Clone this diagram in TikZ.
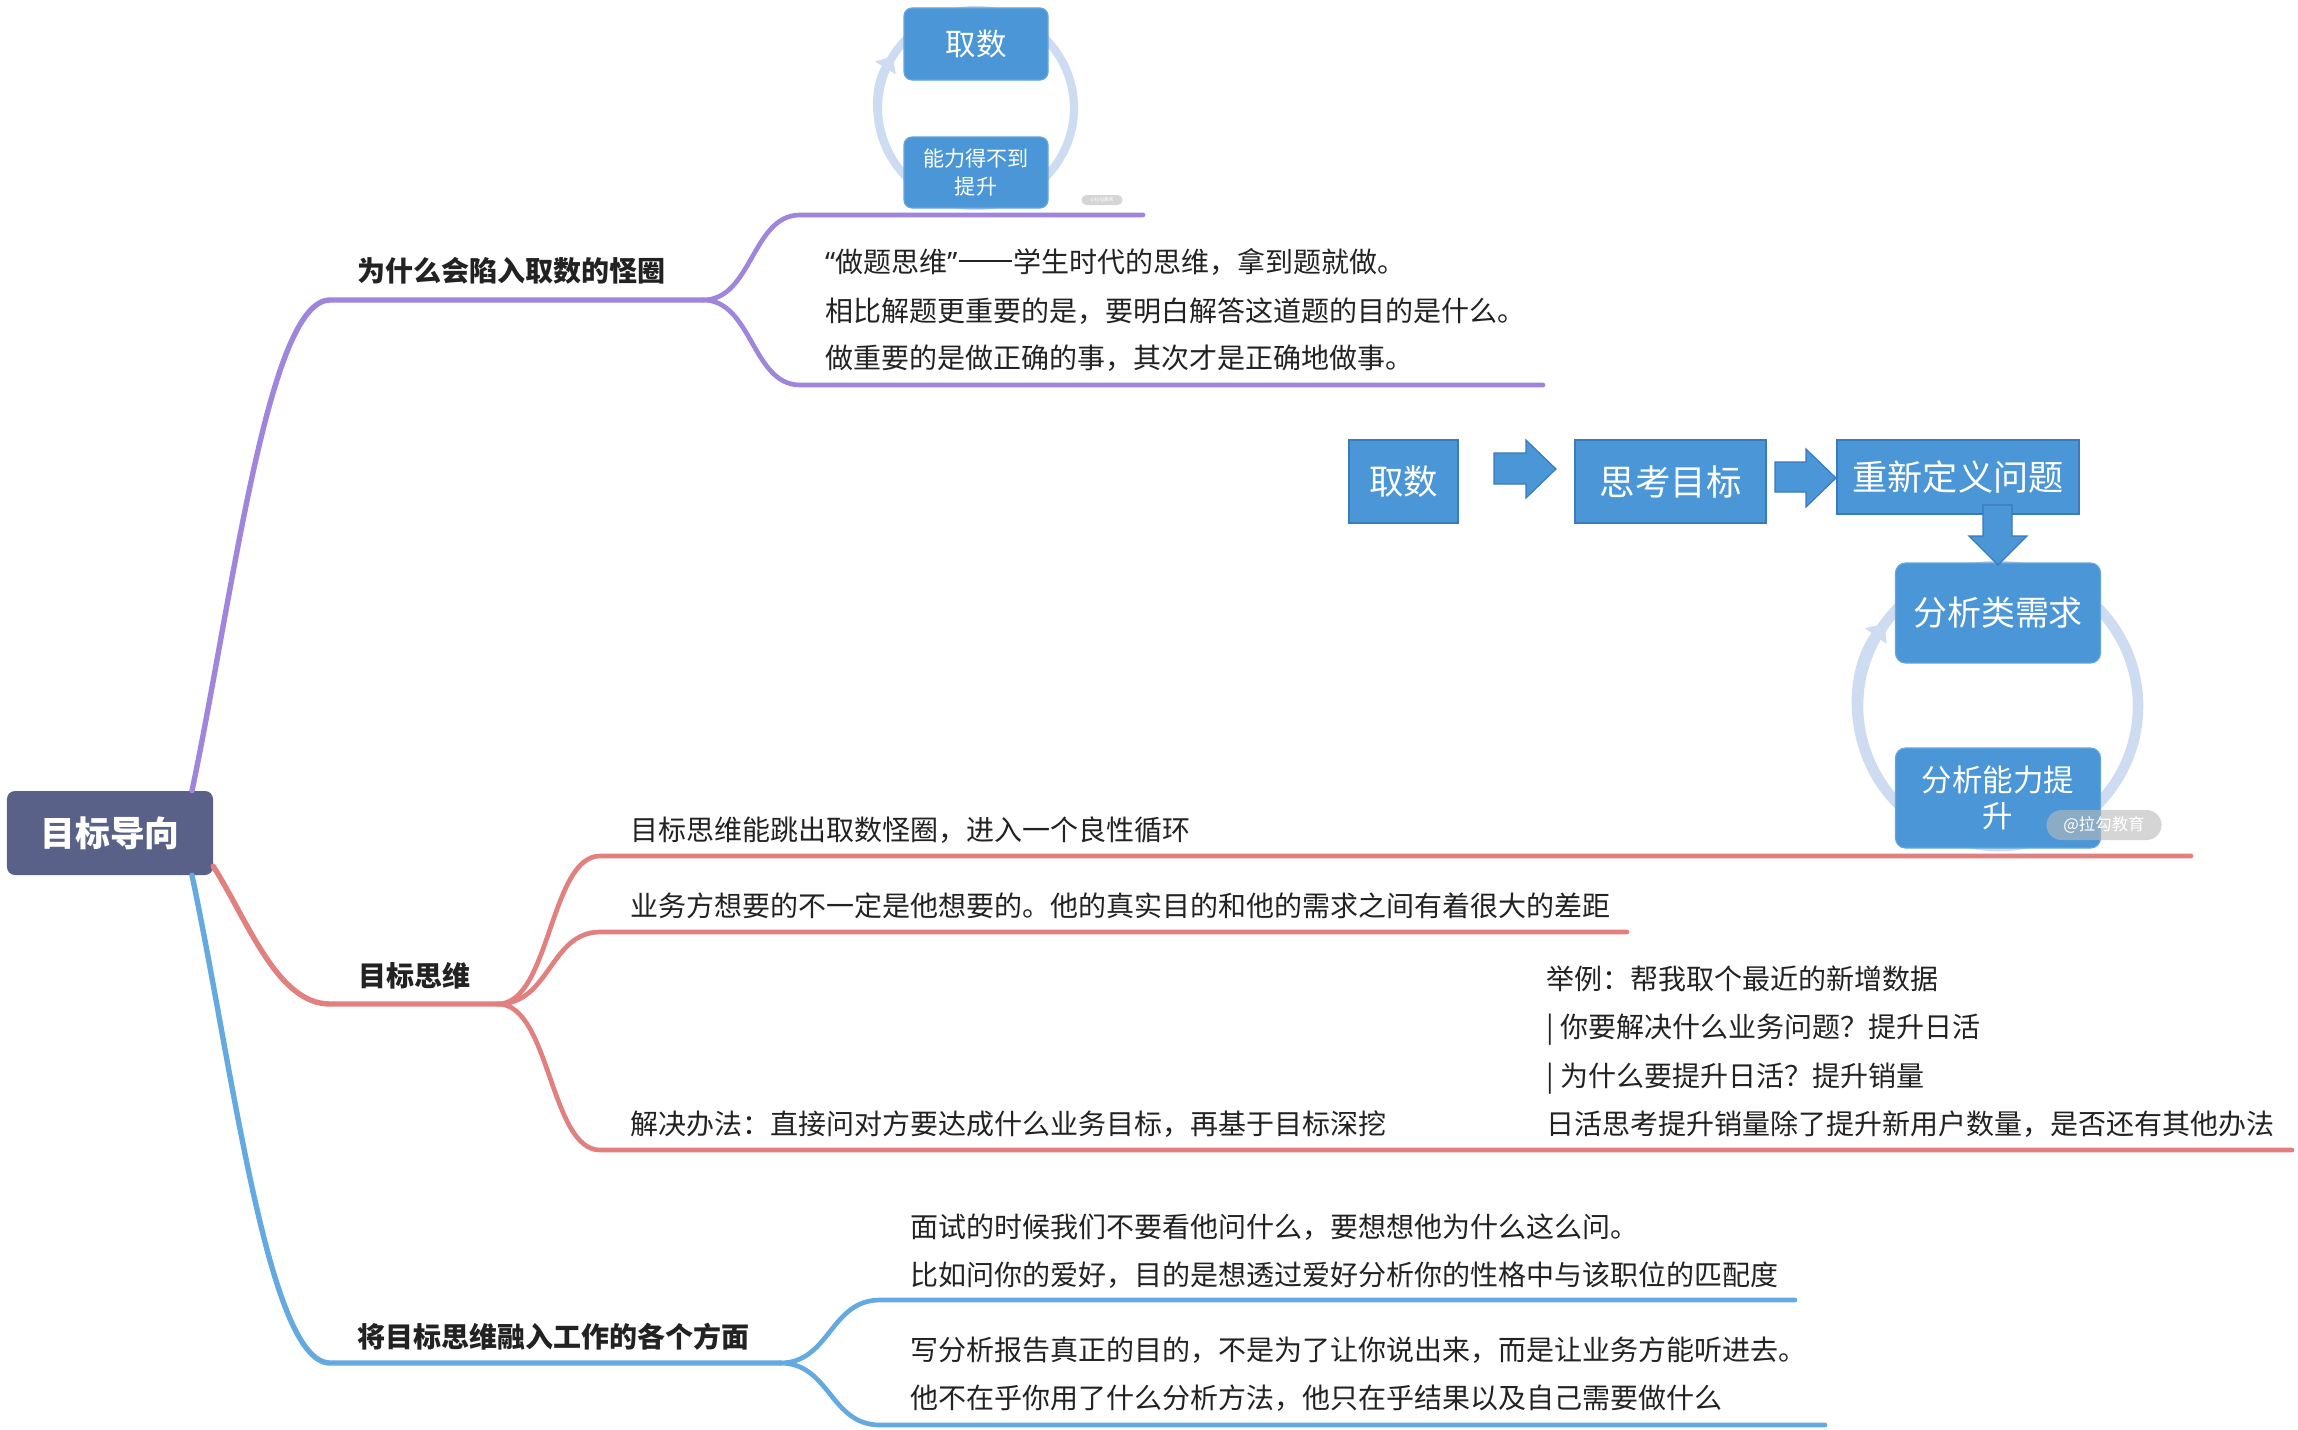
\documentclass[tikz,border=0pt]{standalone}
\usepackage{fontspec}
\setmainfont{Noto Sans CJK SC}
\newfontfamily\latq{Noto Sans}
\usetikzlibrary{arrows.meta}
\definecolor{pur}{RGB}{160,133,221}
\definecolor{red1}{RGB}{226,128,128}
\definecolor{blu}{RGB}{100,170,225}
\definecolor{rootc}{RGB}{90,97,136}
\definecolor{flowf}{RGB}{74,150,215}
\definecolor{flowl}{RGB}{58,122,190}
\definecolor{cyc}{RGB}{205,220,240}
\definecolor{ink}{RGB}{34,34,34}
\newcommand{\cjkdash}{\hspace{0.05em}\rule[0.36em]{1.9em}{0.06em}\hspace{0.05em}}
\begin{document}
\begin{tikzpicture}[x=0.03cm,y=-0.03cm,
  txt/.style={anchor=base west, inner sep=0pt, text=ink, font=\fontsize{23.9pt}{28pt}\selectfont},
  lbl/.style={anchor=base west, inner sep=0pt, text=ink, font=\fontsize{23.9pt}{28pt}\selectfont\bfseries},
  mainline/.style={line width=4.6pt, line cap=round},
  subline/.style={line width=4pt, line cap=round},
  flowbox/.style={fill=flowf, draw=flowl, line width=1.2pt, text=white, inner sep=0pt, align=center},
  cycbox/.style={fill=flowf, draw=flowf!85!white, line width=1pt, text=white, inner sep=0pt, align=center, rounded corners=0.3cm},
  cycline/.style={draw=cyc},
  blockarrow/.style={fill=flowf, draw=flowl, line width=1pt},
  wm/.style={fill=gray!55, fill opacity=0.6, text opacity=1, text=white, inner sep=0pt}
]
\useasboundingbox (0,0) rectangle (2298,1430);
\fill[white] (0,0) rectangle (2298,1430);

% ---------- root ----------
\node[fill=rootc, rounded corners=0.24cm, minimum width=6.18cm, minimum height=2.52cm, inner sep=0pt,
      text=white, font=\fontsize{29.7pt}{32pt}\selectfont\bfseries] (root) at (110,833) {目标导向};

% ---------- purple branch ----------
\coordinate (pA) at ([xshift=2.46cm]root.north);
\coordinate (pF) at (703,300);
\coordinate (pE1) at (1143,215);
\coordinate (pE2) at (1543,385);
\draw[mainline, pur] (pA) .. controls (233,595) and (268,300) .. (330,300) -- (pF);
\draw[subline, pur] (pF) .. controls (752,300) and (752,215) .. (800,215) -- (pE1);
\draw[subline, pur] (pF) .. controls (752,300) and (752,385) .. (800,385) -- (pE2);
\node[lbl] (pL) at (357,281) {为什么会陷入取数的怪圈};
\node[txt] (pT1) at (825,272) {{\latq “}做题思维{\latq ”}\cjkdash 学生时代的思维，拿到题就做。};
\node[txt] (pT2) at (825,321) {相比解题更重要的是，要明白解答这道题的目的是什么。};
\node[txt] (pT3) at (825,368) {做重要的是做正确的事，其次才是正确地做事。};

% small cycle picture
\draw[cycline, line width=7pt] (976,108) circle[radius=98];
\draw[cycline, line width=7pt, -{Triangle[width=20pt,length=12pt]}] (976,108) ++(150:98) arc[start angle=150, end angle=212, radius=98];
\node[cycbox, minimum width=4.32cm, minimum height=2.16cm, rounded corners=0.24cm,
      font=\fontsize{26pt}{28pt}\selectfont] (c1a) at (976,44) {取数};
\node[cycbox, minimum width=4.32cm, minimum height=2.13cm, rounded corners=0.24cm,
      font=\fontsize{18pt}{24pt}\selectfont] (c1b) at (976,172.5) {能力得不到\\提升};
\node[wm, minimum width=1.23cm, minimum height=0.3cm, rounded corners=0.15cm,
      font=\fontsize{4pt}{4pt}\selectfont] (wm1) at (1102,200) {@拉勾教育};

% ---------- red branch ----------
\coordinate (rA) at ([yshift=0.27cm]root.south east);
\coordinate (rF) at (498,1004);
\coordinate (rE1) at (2191,856);
\coordinate (rE2) at (1627,932);
\coordinate (rE3) at (2292,1150);
\draw[mainline, red1] (rA) .. controls (248,921) and (277,1004) .. (330,1004) -- (rF);
\draw[subline, red1] (rF) .. controls (550,1004) and (550,856) .. (600,856) -- (rE1);
\draw[subline, red1] (rF) .. controls (550,1004) and (550,932) .. (600,932) -- (rE2);
\draw[subline, red1] (rF) .. controls (550,1004) and (550,1150) .. (600,1150) -- (rE3);
\node[lbl] (rL) at (358,986) {目标思维};
\node[txt] (rT1) at (630,840) {目标思维能跳出取数怪圈，进入一个良性循环};
\node[txt] (rT2) at (630,916) {业务方想要的不一定是他想要的。他的真实目的和他的需求之间有着很大的差距};
\node[txt] (rT3) at (630,1134) {解决办法：直接问对方要达成什么业务目标，再基于目标深挖};
\node[txt] (rX1) at (1546,989) {举例：帮我取个最近的新增数据};
\node[txt] (rX2) at (1546,1037) {| 你要解决什么业务问题？提升日活};
\node[txt] (rX3) at (1546,1086) {| 为什么要提升日活？提升销量};
\node[txt] (rX4) at (1546,1134) {日活思考提升销量除了提升新用户数量，是否还有其他办法};

% flow picture
\node[flowbox, minimum width=3.27cm, minimum height=2.49cm, font=\fontsize{29.4pt}{32pt}\selectfont] (f1) at (1403.5,481.5) {取数};
\node[flowbox, minimum width=5.73cm, minimum height=2.49cm, font=\fontsize{30.3pt}{32pt}\selectfont] (f2) at (1670.5,481.5) {思考目标};
\node[flowbox, minimum width=7.26cm, minimum height=2.22cm, font=\fontsize{30pt}{32pt}\selectfont] (f3) at (1958,477) {重新定义问题};
\fill[blockarrow] (1494,453) -- (1526,453) -- (1526,440) -- (1556,469) -- (1526,498) -- (1526,484) -- (1494,484) -- cycle;
\fill[blockarrow] (1775,462) -- (1806,462) -- (1806,449) -- (1836,478) -- (1806,507) -- (1806,492) -- (1775,492) -- cycle;
\draw[cycline, line width=9pt] (1998,706) circle[radius=140];
\draw[cycline, line width=9pt, -{Triangle[width=22pt,length=13pt]}] (1998,706) ++(145:140) arc[start angle=145, end angle=216, radius=140];
\node[cycbox, minimum width=6.15cm, minimum height=3.0cm, font=\fontsize{29pt}{32pt}\selectfont] (f4) at (1998,613) {分析类需求};
\node[cycbox, minimum width=6.15cm, minimum height=3.0cm, font=\fontsize{26pt}{30.7pt}\selectfont] (f5) at (1998,798) {分析能力提\\升};
\fill[blockarrow] (1983,505) -- (2012,505) -- (2012,536) -- (2027,536) -- (1998,565) -- (1969,536) -- (1983,536) -- cycle;
\node[wm, minimum width=3.45cm, minimum height=0.9cm, rounded corners=0.45cm,
      font=\fontsize{14pt}{15pt}\selectfont] (wm2) at (2104,825) {@拉勾教育};

% ---------- blue branch ----------
\coordinate (bA) at ([xshift=2.46cm]root.south);
\coordinate (bF) at (780,1363);
\coordinate (bE1) at (1795,1300);
\coordinate (bE2) at (1825,1425);
\draw[mainline, blu] (bA) .. controls (233,1070) and (268,1363) .. (330,1363) -- (bF);
\draw[subline, blu] (bF) .. controls (830,1363) and (830,1300) .. (880,1300) -- (bE1);
\draw[subline, blu] (bF) .. controls (830,1363) and (830,1425) .. (880,1425) -- (bE2);
\node[lbl] (bL) at (357,1347) {将目标思维融入工作的各个方面};
\node[txt] (bT1) at (910,1237) {面试的时候我们不要看他问什么，要想想他为什么这么问。};
\node[txt] (bT2) at (910,1285) {比如问你的爱好，目的是想透过爱好分析你的性格中与该职位的匹配度};
\node[txt] (bT3) at (910,1360) {写分析报告真正的目的，不是为了让你说出来，而是让业务方能听进去。};
\node[txt] (bT4) at (910,1408) {他不在乎你用了什么分析方法，他只在乎结果以及自己需要做什么};
\end{tikzpicture}
\end{document}
